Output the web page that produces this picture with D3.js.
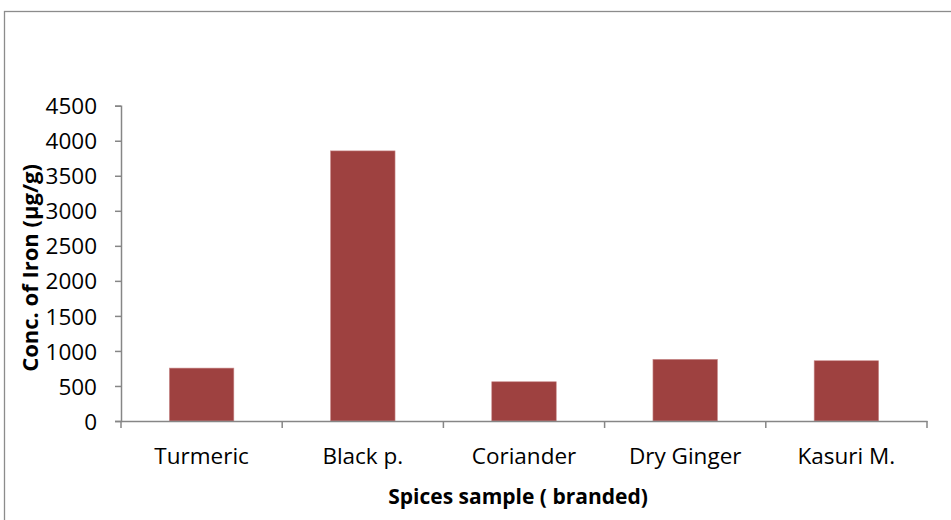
<!DOCTYPE html>
<html>
<head>
<meta charset="utf-8">
<script src="https://cdn.jsdelivr.net/npm/d3@7"></script>
<style>
  html, body { margin: 0; padding: 0; background: #fff; }
  svg { display: block; }
  text { font-family: "Open Sans", "Noto Sans", sans-serif; fill: #000; }
</style>
</head>
<body>
<svg id="chart" width="951" height="520"></svg>
<script>
const categories = ["Turmeric", "Black p.", "Coriander", "Dry Ginger", "Kasuri M."];
const ironValues = [755, 3855, 560, 880, 860];
const yTicks = [0, 500, 1000, 1500, 2000, 2500, 3000, 3500, 4000, 4500];
const xTitle = "Spices sample ( branded)";
const yTitle = "Conc. of Iron (µg/g)";

const svg = d3.select("#chart");
const W = 951, H = 520;
const plot = { left: 121, right: 927, top: 105.7, bottom: 421 };

// outer chart border (extends beyond the picture on right/bottom)
svg.append("rect")
  .attr("x", 4.5).attr("y", 11.5)
  .attr("width", W + 10).attr("height", H + 10)
  .attr("fill", "none").attr("stroke", "#8c8c8c").attr("stroke-width", 1.3);

const x = d3.scaleBand().domain(categories).range([plot.left, plot.right]).padding(0);
const xBars = d3.scaleBand().domain(categories).range([plot.left, plot.right])
  .paddingInner(0.6).paddingOuter(0.3);
const y = d3.scaleLinear().domain([0, 4500]).range([plot.bottom, plot.top]);

// bars
svg.append("g").selectAll("rect")
  .data(categories)
  .join("rect")
  .attr("x", d => xBars(d))
  .attr("y", (d, i) => y(ironValues[i]))
  .attr("width", xBars.bandwidth())
  .attr("height", (d, i) => y(0) - y(ironValues[i]))
  .attr("fill", "#9e4140")
  .attr("stroke", "#c98a8a")
  .attr("stroke-width", 0.6);

// y axis
const yAxis = d3.axisLeft(y).tickValues(yTicks).tickSize(6).tickPadding(18).tickFormat(d3.format("d"));
const gy = svg.append("g").attr("transform", `translate(${plot.left},0)`).call(yAxis);
gy.select(".domain").attr("stroke", "#868686").attr("stroke-width", 1.5);
gy.selectAll(".tick line").attr("stroke", "#868686").attr("stroke-width", 1.5);
gy.selectAll(".tick text").style("font-size", "22.5px").attr("font-family", null).attr("dy", "0.36em");

// x axis
const xAxis = d3.axisBottom(x).tickSize(0).tickPadding(0);
const gx = svg.append("g").attr("transform", `translate(0,${plot.bottom})`).call(xAxis);
gx.select(".domain").attr("stroke", "#868686").attr("stroke-width", 1.5);
gx.selectAll(".tick text").attr("y", 43).attr("dy", null).style("font-size", "22.5px");
// category boundary ticks
const bounds = categories.map(c => x(c)).concat([plot.right]);
gx.append("g").selectAll("line")
  .data(bounds)
  .join("line")
  .attr("x1", d => d).attr("x2", d => d)
  .attr("y1", 0).attr("y2", 7)
  .attr("stroke", "#868686").attr("stroke-width", 1.5);

// axis titles
svg.append("text")
  .attr("x", (plot.left + plot.right) / 2 - 6).attr("y", 504)
  .attr("text-anchor", "middle")
  .style("font-size", "21px").style("font-weight", "bold")
  .text(xTitle);

svg.append("text")
  .attr("transform", `translate(38,268) rotate(-90)`)
  .attr("text-anchor", "middle")
  .style("font-size", "22px").style("font-weight", "bold")
  .text(yTitle);
</script>
</body>
</html>
